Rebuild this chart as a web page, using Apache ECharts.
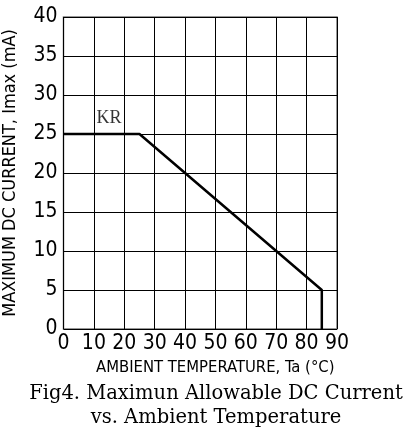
<!DOCTYPE html>
<html>
<head>
<meta charset="utf-8">
<script src="https://cdn.jsdelivr.net/npm/echarts@6/dist/echarts.min.js"></script>
<style>
html,body{margin:0;padding:0;background:#fff;}
#c{width:411px;height:430px;}
</style>
</head>
<body>
<div id="c"></div>
<script>
var xTicks = [0, 10, 20, 30, 40, 50, 60, 70, 80, 90];
var yTicks = [0, 5, 10, 15, 20, 25, 30, 35, 40];
var temps = [0, 25, 85, 85];
var currents = [25, 25, 5, 0];
var curveLabel = 'KR';
var labelPos = [15, 27];
var xName = 'AMBIENT TEMPERATURE, Ta (\u00B0C)';
var yName = 'MAXIMUM DC CURRENT, Imax (mA)';
var titleLines = ['Fig4. Maximun Allowable DC Current', 'vs. Ambient Temperature'];

var narrow = "'DejaVu Sans Condensed', 'Liberation Sans Narrow', sans-serif";
var chart = echarts.init(document.getElementById('c'));
chart.setOption({
  animation: false,
  backgroundColor: '#fff',
  title: {
    text: titleLines.join('\n'),
    left: 211,
    textAlign: 'center',
    top: 377,
    textStyle: { fontFamily: "'DejaVu Serif', serif", fontSize: 19.5, fontWeight: 'normal', color: '#000', lineHeight: 24 }
  },
  grid: { left: 63.5, right: 74, top: 17, bottom: 101, containLabel: false, outerBoundsMode: 'none', show: true, borderColor: '#777', borderWidth: 1.5, backgroundColor: 'transparent' },
  xAxis: {
    type: 'value', min: xTicks[0], max: xTicks[xTicks.length - 1], interval: 10,
    name: xName, nameLocation: 'middle', nameGap: 29,
    nameTextStyle: { fontFamily: narrow, fontSize: 16.5, color: '#000', padding: [0, 0, 0, 30] },
    axisLine: { show: false }, axisTick: { show: false },
    axisLabel: { fontFamily: narrow, fontSize: 21, color: '#000', margin: 4 },
    splitLine: { show: true, lineStyle: { color: '#000', width: 1 } }
  },
  yAxis: {
    type: 'value', min: yTicks[0], max: yTicks[yTicks.length - 1], interval: 5,
    name: yName, nameLocation: 'middle', nameGap: 44, nameRotate: 90,
    nameTextStyle: { fontFamily: narrow, fontSize: 18, color: '#000' },
    axisLine: { show: false }, axisTick: { show: false },
    axisLabel: { fontFamily: narrow, fontSize: 21, color: '#000', margin: 6 },
    splitLine: { show: true, lineStyle: { color: '#000', width: 1 } }
  },
  series: [
    {
      type: 'line',
      data: temps.map(function (t, i) { return [t, currents[i]]; }),
      symbol: 'none',
      lineStyle: { color: '#000', width: 2.5 },
      z: 5
    },
    {
      type: 'scatter',
      data: [labelPos],
      symbolSize: 0,
      label: { show: true, position: 'inside', formatter: curveLabel, fontFamily: "'Liberation Serif', serif", fontSize: 18, color: '#000' },
      z: 6
    }
  ]
});
</script>
</body>
</html>
